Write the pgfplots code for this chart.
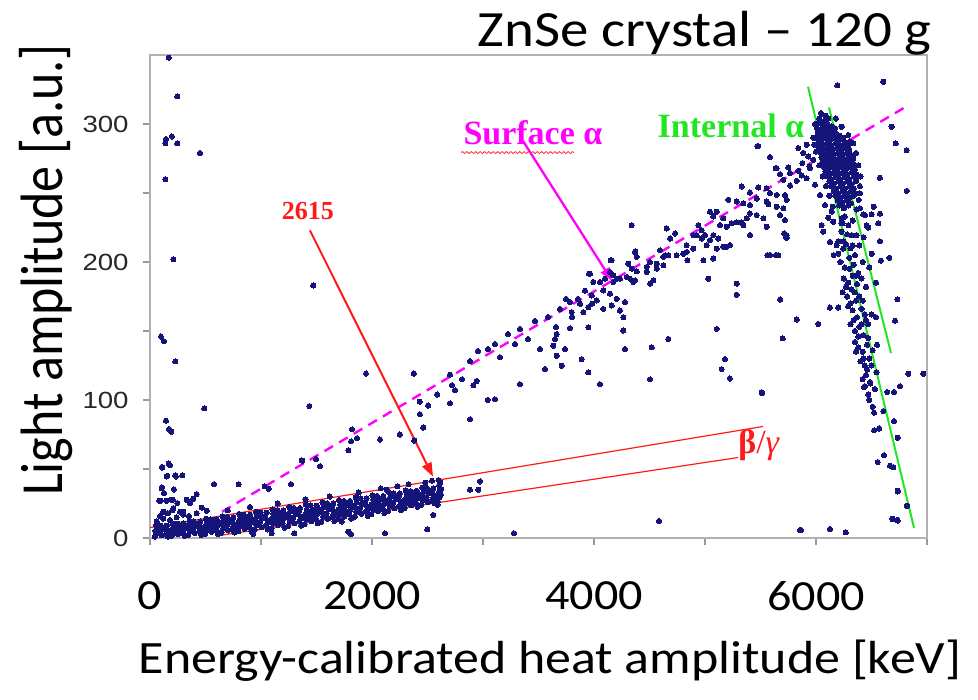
\documentclass[border=0pt]{standalone}
\usepackage{pgfplots}
\pgfplotsset{compat=1.18}
\usepackage{fontspec}
\usetikzlibrary{arrows.meta,decorations.pathmorphing}
\newfontfamily\calib{Carlito}[FakeStretch=1.12]
\newfontfamily\calibn{Carlito}
\newfontfamily\arialf{Liberation Sans}[FakeStretch=1.18]
\newfontfamily\tnr{Liberation Serif}
\definecolor{dotblue}{HTML}{14147A}
\definecolor{mag}{HTML}{FF00FF}
\definecolor{grn}{HTML}{22E622}
\definecolor{rd}{HTML}{FF1A1A}
\begin{document}
\begin{tikzpicture}
\path[use as bounding box] (0,0) rectangle (489pt,350pt);
\begin{axis}[
  at={(75pt,81pt)}, anchor=south west,
  scale only axis, width=388.5pt, height=241.5pt,
  xmin=0, xmax=7000, ymin=0, ymax=350,
  xtick={0,2000,4000,6000}, minor xtick={1000,3000,5000,7000},
  ytick={0,100,200,300}, minor ytick={50,150,250},
  tick pos=left, tick align=outside,
  major tick length=3.5pt, minor tick length=3.5pt,
  tick style={gray!80, line width=0.6pt},
  axis line style={gray!60, line width=0.7pt},
  xticklabel style={font=\calib\fontsize{21.5}{24}\selectfont, inner sep=0pt, yshift=-18pt},
  yticklabel style={font=\arialf\fontsize{11.7}{13}\selectfont, color=black!85, inner sep=0pt, xshift=-7pt},
  /pgf/number format/assume math mode=true,
  /pgf/number format/1000 sep={},
  scaled ticks=false,
  dots/.style={only marks, mark=*, mark size=1.3pt, color=dotblue, mark options={solid, fill=dotblue, draw=dotblue, line width=0pt}},
]
% beta/gamma band (dense)
\addplot[dots] coordinates {
(44,1.0) (59,3.1) (48,5.1) (63,7.1) (54,9.1)
(103,2.1) (91,4.6) (111,6.6) (96,8.9)
(162,0.9) (145,2.9) (157,5.2) (139,7.4) (151,8.9)
(194,1.5) (209,4.0) (198,6.2) (213,8.4) (204,10.7)
(253,2.8) (241,5.5) (261,7.9) (246,10.4)
(312,1.5) (295,3.7) (307,6.3) (289,8.7) (301,10.5)
(344,2.2) (359,4.9) (348,7.4) (363,9.8) (354,12.3)
(403,3.6) (391,6.6) (411,9.2) (396,12.0)
(462,2.2) (445,4.6) (457,7.5) (439,10.1) (451,12.0)
(494,2.9) (509,5.9) (498,8.6) (513,11.3) (504,14.0)
(553,4.5) (541,7.7) (561,10.5) (546,13.5)
(612,3.0) (595,5.6) (607,8.7) (589,11.5) (601,13.6)
(644,3.8) (659,7.0) (648,9.9) (663,12.8) (654,15.7)
(703,5.5) (691,9.0) (711,11.9) (696,15.2)
(762,4.0) (745,6.7) (757,10.0) (739,13.0) (751,15.1)
(794,4.9) (809,8.2) (798,11.3) (813,14.3) (804,17.4)
(853,6.6) (841,10.3) (861,13.4) (846,16.8)
(912,5.0) (895,7.9) (907,11.3) (889,14.5) (901,16.8)
(944,6.0) (959,9.5) (948,12.7) (963,15.9) (954,19.0)
(1003,7.9) (991,11.7) (1011,14.9) (996,18.4)
(1062,6.2) (1045,9.2) (1057,12.8) (1039,16.0) (1051,18.4)
(1094,7.2) (1109,10.8) (1098,14.1) (1113,17.4) (1104,20.7)
(1153,9.2) (1141,13.1) (1161,16.5) (1146,20.1)
(1212,7.5) (1195,10.6) (1207,14.2) (1189,17.6) (1201,20.0)
(1244,8.6) (1259,12.3) (1248,15.7) (1263,19.1) (1254,22.5)
(1303,10.7) (1291,14.7) (1311,18.1) (1296,21.8)
(1362,9.0) (1345,12.1) (1357,15.8) (1339,19.2) (1351,21.7)
(1394,10.1) (1409,13.9) (1398,17.3) (1413,20.7) (1404,24.2)
(1453,12.2) (1441,16.3) (1461,19.7) (1446,23.5)
(1512,10.6) (1495,13.7) (1507,17.5) (1489,20.9) (1501,23.4)
(1544,11.7) (1559,15.5) (1548,18.9) (1563,22.4) (1554,25.9)
(1603,13.9) (1591,18.0) (1611,21.4) (1596,25.2)
(1662,12.3) (1645,15.4) (1657,19.2) (1639,22.6) (1651,25.2)
(1694,13.5) (1709,17.2) (1698,20.7) (1713,24.1) (1704,27.6)
(1753,15.6) (1741,19.7) (1761,23.2) (1746,26.9)
(1812,14.1) (1795,17.2) (1807,21.0) (1789,24.4) (1801,26.9)
(1844,15.3) (1859,19.1) (1848,22.5) (1863,25.9) (1854,29.4)
(1903,17.5) (1891,21.6) (1911,25.0) (1896,28.7)
(1962,16.0) (1945,19.1) (1957,22.8) (1939,26.2) (1951,28.6)
(1994,17.3) (2009,21.0) (1998,24.4) (2013,27.7) (2004,31.1)
(2053,19.5) (2041,23.5) (2061,26.8) (2046,30.5)
(2112,18.1) (2095,21.1) (2107,24.7) (2089,28.0) (2101,30.4)
(2144,19.4) (2159,23.0) (2148,26.3) (2163,29.5) (2154,32.8)
(2203,21.6) (2191,25.5) (2211,28.7) (2196,32.2)
(2262,20.3) (2245,23.2) (2257,26.7) (2239,29.9) (2251,32.3)
(2294,21.7) (2309,25.1) (2298,28.3) (2313,31.4) (2304,34.6)
(2353,23.8) (2341,27.5) (2361,30.6) (2346,34.0)
(2412,22.6) (2395,25.4) (2407,28.8) (2389,31.8) (2401,34.1)
(2444,24.0) (2459,27.3) (2448,30.3) (2463,33.3) (2454,36.4)
(2503,26.1) (2491,29.7) (2511,32.6) (2496,35.9)
(2562,25.1) (2545,27.7) (2557,30.9) (2539,33.8) (2551,35.9)
(2594,26.4) (2609,29.5) (2598,32.4) (2613,35.3) (2604,38.1)
(75,3.8) (125,6.4) (175,4.3) (225,7.2) (275,5.0) (325,8.1) (375,5.7) (425,8.9) (475,6.4) (525,9.9)
(575,7.1) (625,10.7) (675,7.9) (725,11.7) (775,8.7) (825,12.6) (875,9.6) (925,13.6) (975,10.5) (1025,14.6)
(1075,11.4) (1125,15.6) (1175,12.4) (1225,16.7) (1275,13.4) (1325,17.8) (1375,14.4) (1425,18.9) (1475,15.5) (1525,20.0)
(1575,16.6) (1625,21.1) (1675,17.8) (1725,22.3) (1775,18.9) (1825,23.5) (1875,20.2) (1925,24.7) (1975,21.4) (2025,25.9)
(2075,22.7) (2125,27.1) (2175,24.0) (2225,28.4) (2275,25.4) (2325,29.7) (2375,26.8) (2425,31.0) (2475,28.2) (2525,32.4)
(2575,29.7)
(1620,30) (1880,33) (2080,36) (2230,37.5) (2330,39) (2480,40) (2540,41.5) (1400,28) (1150,25) (900,22.5) (700,20) (2600,42)
(2620,31.5) (2625,35.5) (2615,40.0) (2590,24.0)
(60,12) (120,14) (180,13) (90,16) (240,15) (300,17) (350,16) (420,18) (160,18) (200,20) (270,19)
};
% scattered events, low region and left column
\addplot[dots] coordinates {
(170,348) (246,320) (138,286) (144,289) (198,291) (246,286) (450,279) (138,260) (210,202)
(99,146) (126,142.5) (228,128) (489,94) (144,85) (171,79) (192,77)
(108,51.5) (168,54) (180,52.7) (156,45) (228,45.4) (291,45.4) (577,39) (1270,39)
(111,51) (150,44.6) (234,44.6) (799,39) (105,36) (96,27) (204,27.7) (330,27.7) (390,28.4)
(420,31.8) (465,22) (510,19.7) (300,19) (210,21.6) (120,19) (565,13)
(108,36.7) (126,32.6) (216,35.2) (84,27) (150,27) (246,25.3) (195,27.7) (360,25.3)
(1300,3.4) (1787,4.6) (1811,2.7) (2117,3.4) (2498,6.3) (2552,16.7) (3279,3.4)
(2973,41) (2883,35) (2958,35) (2132,35) (1727,11.9) (931,2.9) (1096,3.4)
(4586,12.4) (5865,5.8) (6126,6.6) (6268,4.1) (6687,14) (6733,13.1) (6736,34.2) (6823,23.3)
};
% surface alpha band
\addplot[dots] coordinates {
(1435,95.6) (1372,56) (1532,52) (1069,35.7) (1033,37.4) (1811,70) (1865,72.3) (1787,63.6)
(2430,98.8) (2505,96) (2703,97.6) (2721,110.7) (2748,107) (2913,110.7) (2943,113.8) (3042,100)
(2462,80) (2381,70.6) (1471,183) (1946,119.2) (2378,119.2) (1495,57.3) (1366,56.3)
(2586,104) (2703,118.3) (2811,115) (2883,128.2) (2955,135.5) (3045,137) (3108,140.6) (3153,131)
(3225,147.8) (3288,140.6) (3333,151.5) (3405,144.2) (3468,157.3) (3514,137) (3586,160.2)
(3658,153) (3694,166) (3748,173.3) (3802,160.2) (3856,173.3) (3919,179.2) (3982,169.7)
(2883,86) (3108,100.5) (3333,111.4) (3559,122.4) (4054,111.4) (4505,115) (4279,137)
(2252,75) (2072,71.4) (2432,89.6) (1820,78.7)
(3664,147.8) (3649,144.2) (3633,139.3) (3739,137) (3664,132) (3709,124.8) (3889,129.6) (3949,120)
(3784,171) (3799,163.7) (3874,169.7) (3904,163.7) (3949,167.3) (3979,175.7) (4024,172.1) (4084,166)
(4159,168.5) (4234,164.8) (3784,152) (3949,152.7) (4264,150.3)
(3964,191.5) (3994,185.5) (4054,185.5) (4084,179.4) (4204,173.3) (4234,164.8) (4279,170.9) (4264,160)
(4144,177) (4340,226.7) (4370,207.3)
(4309,198.8) (4340,195.2) (4385,193.2) (4475,192.8) (4535,186.7) (4505,184.3) (4295,189.1) (4205,187.9)
(4325,187.9) (4370,186.7) (4159,201.2) (4144,192.8) (4174,185.5) (4099,187.9)
(3955,191.5) (4150,201.2) (4174,190.3) (4234,187.9) (4354,185.5) (4372,207.8) (4565,195.2)
(4625,197.6) (4640,204.9) (4745,204.9) (4835,207.3) (4895,209.7) (4841,201.2) (4985,201.2) (5075,202.5)
(5030,187.9) (5285,184.3)
(4655,224.3) (4730,220.7) (4685,217) (4835,212.2) (4895,219.5) (4805,206) (4670,205)
(4625,203.7) (4565,198.8) (4505,200) (4475,196.4) (4595,208.5) (4385,203.7)
(4925,219.5) (4970,217) (5000,219.5) (5015,212.2) (5045,215.8) (5105,209.7) (5120,217) (5165,211)
(5195,211) (5225,212.2) (5075,219.5) (4970,223) (4940,226.7)
(5045,236.5) (5075,233) (5105,236.5) (5135,226.7) (5165,231.6) (5195,225.5) (5240,228) (5285,228.7)
(5331,228.7) (5376,231.6) (5405,235.2) (5466,234) (5526,231.6) (5556,225.5) (5405,219.5) (5345,226.7)
(5210,245) (5285,243.8) (5345,242.5) (5405,241.3) (5466,246) (5556,243.8) (5571,241.8) (5646,240)
(5706,238.9) (5736,245) (5676,234) (5721,230.4) (5736,219.5) (5736,217.6)
(5331,254.7) (5405,250.3) (5480,254) (5556,253.5) (5586,250) (5646,248.6) (5721,248.6)
(5676,263.6) (5706,259.5) (5826,258.8) (5766,255.4)
(5646,268) (5751,268.5) (5766,264.4) (5841,266) (5871,262.7) (5916,260.7) (5940,269.3) (5877,271.7)
(5480,284) (5586,276)
(4520,138.2) (4670,144.2) (5105,151.5) (5180,129.7) (5150,122.4) (5225,115.6) (5511,105.4)
(5285,176.2) (5676,172.8) (5826,158.3) (6021,155.1) (5700,144.7) (5586,205) (5661,205)
};
% internal alpha cluster and surroundings
\addplot[dots] coordinates {
(6045,308) (6085,306)
(6030,304) (6070,302) (6110,304)
(6020,300.5) (6060,298.5) (6100,300.5) (6140,298.5)
(6010,297) (6050,295) (6090,297) (6130,295) (6170,297)
(6015,293.5) (6055,291.5) (6095,293.5) (6135,291.5) (6175,293.5) (6215,291.5)
(6005,290) (6045,288) (6085,290) (6125,288) (6165,290) (6205,288) (6245,290)
(6020,286.5) (6060,284.5) (6100,286.5) (6140,284.5) (6180,286.5) (6220,284.5) (6260,286.5) (6290,284.5)
(6030,283) (6070,281) (6110,283) (6150,281) (6190,283) (6230,281) (6270,283) (6300,281)
(6040,279.5) (6080,277.5) (6120,279.5) (6160,277.5) (6200,279.5) (6240,277.5) (6280,279.5) (6320,277.5)
(6050,276) (6090,274) (6130,276) (6170,274) (6210,276) (6250,274) (6290,276) (6330,274)
(6060,272.5) (6100,270.5) (6140,272.5) (6180,270.5) (6220,272.5) (6260,270.5) (6300,272.5) (6340,270.5)
(6070,269) (6110,267) (6150,269) (6190,267) (6230,269) (6270,267) (6310,269) (6350,267)
(6085,265.5) (6125,263.5) (6165,265.5) (6205,263.5) (6245,265.5) (6285,263.5) (6325,265.5) (6365,263.5)
(6100,262) (6140,260) (6180,262) (6220,260) (6260,262) (6300,260) (6340,262)
(6120,258.5) (6160,256.5) (6200,258.5) (6240,256.5) (6280,258.5) (6320,256.5) (6360,258.5)
(6140,255) (6180,253) (6220,255) (6260,253) (6300,255) (6340,253)
(6160,251.5) (6200,249.5) (6240,251.5) (6280,249.5) (6320,251.5) (6360,249.5)
(6175,248) (6215,246) (6255,248) (6295,246) (6335,248)
(6195,244.5) (6235,242.5) (6275,244.5) (6315,242.5)
(6210,241) (6250,239) (6290,241)
(5990,300) (5975,290) (6180,304) (6230,298) (6290,292) (6335,286) (6360,279) (6380,270) (6400,262)
(6395,255) (6385,245) (6365,238) (6150,240) (6120,248) (6090,255) (6060,262) (6030,270) (6000,280)
(5985,285) (6110,232) (6260,233) (6330,230) (6240,228)
(5841,282.6) (5886,279) (5931,276.5) (5976,274) (5946,268) (5916,285) (5991,256) (6036,248.6)
(6081,241.3) (6141,236.5) (6231,231.6) (6291,226.7) (6321,219.5) (6366,219.5) (6396,238.9) (6441,234)
(6457,226.7) (6306,287.5) (6336,275.3) (6366,260.7) (6336,253.4) (6396,249.8) (6051,226.7) (6066,222)
(6126,214.6) (6186,212.2) (6201,206) (6246,209.7) (6156,229.2)
(6220,200) (6260,196) (6300,203) (6340,198) (6380,192) (6420,200) (6250,188) (6290,185) (6330,190)
(6370,184) (6410,188) (6450,182) (6240,178) (6280,175) (6320,180) (6360,172)
(6290,168) (6330,165) (6370,160) (6410,166) (6450,158) (6310,155) (6350,150) (6390,153) (6430,147)
(6470,155) (6500,162)
(6350,142) (6380,138) (6420,135) (6460,140) (6400,128) (6440,125) (6480,130) (6510,136)
(6450,118) (6490,112) (6470,104) (6530,108)
(6230,228) (6280,220) (6250,215) (6330,212) (6300,195) (6360,190) (6270,182) (6350,178) (6390,175)
(6310,170) (6420,172) (6340,158) (6380,146) (6410,155) (6440,162) (6470,145) (6360,135) (6430,130)
(6460,122) (6500,125) (6420,115) (6480,100) (6510,95) (6545,120) (6550,140) (6540,160)
(6480,196) (6540,185) (6200,215) (6160,205) (6230,222) (6270,213) (6310,210) (6350,205) (6390,212)
(6430,218) (6470,225) (6520,240) (6560,228)
(6192,328) (6607,330.6) (6718,286) (6817,281) (6817,251.5) (6681,298) (5471,284) (5637,268)
(6576,261) (6576,235) (6501,234.5) (6426,234.5) (6576,215) (6585,201) (6660,203) (6501,206)
(6733,173) (6712,157.5) (6126,167) (6201,167) (5516,105) (5561,205) (5640,205) (5730,218) (5712,220.7)
(6832,119) (6967,119) (6757,110) (6642,105.8) (6703,105.8) (6441,110) (6486,113) (6432,109.5)
(6523,90.8) (6607,92) (6703,84.7) (6523,78) (6568,79.4) (6736,72.6) (6556,55) (6613,60) (6667,52.4)
(6697,51.2) (6736,33.7) (6817,23.3) (6690,13.6) (6736,12.6) (5856,5.8)
};
% annotation lines
\addplot[mag, line width=1.2pt, dash pattern=on 5pt off 3.5pt] coordinates {(649,19) (6820,313)};
\addplot[grn, line width=1pt] coordinates {(5928,327) (6883,7.3)};
\addplot[grn, line width=1pt] coordinates {(6117,312) (6676,134)};
\addplot[rd, line width=0.6pt] coordinates {(-18,7.3) (5523,80.8)};
\addplot[rd, line width=0.6pt] coordinates {(658,2.2) (5297,58.3)};
\draw[rd, line width=1pt, -{Triangle[length=7pt,width=5pt]}] (axis cs:1441,222.9) -- (axis cs:2550,44.4);
\draw[mag, line width=1.15pt, -{Triangle[length=6.5pt,width=5pt]}] (axis cs:3360,287.7) -- (axis cs:4162,186.4);
\node[rd, font=\tnr\bfseries\fontsize{13}{15}\selectfont, inner sep=0pt] at (axis cs:1423,236.7) {2615};
\node[mag, font=\tnr\bfseries\fontsize{17}{19}\selectfont, inner sep=0pt] at (axis cs:3450,293.5) {Surface α};
\draw[red!80, line width=0.4pt, decorate, decoration={snake, amplitude=0.5pt, segment length=2.2pt}] (axis cs:2803,279.3) -- (axis cs:3820,279.3);
\node[grn, font=\tnr\bfseries\fontsize{17}{19}\selectfont, inner sep=0pt] at (axis cs:5234,298.6) {Internal α};
\node[rd, font=\tnr\fontsize{17}{19}\selectfont, inner sep=0pt, anchor=west] at (axis cs:5297,67) {\textbf{β}/\textit{γ}};
\end{axis}
\node[anchor=base east, inner sep=0pt] at (466pt,326.5pt) {\calib\fontsize{25.4}{30}\selectfont ZnSe crystal – 120 g};
\node[anchor=base, inner sep=0pt] at (275pt,13pt) {\calib\fontsize{23.2}{28}\selectfont Energy-calibrated heat amplitude [keV]};
\node[anchor=base, inner sep=0pt, rotate=90] at (31.5pt,215pt) {\scalebox{1}[1.15]{\calibn\fontsize{26}{30}\selectfont Light amplitude [a.u.]}};
\end{tikzpicture}
\end{document}
